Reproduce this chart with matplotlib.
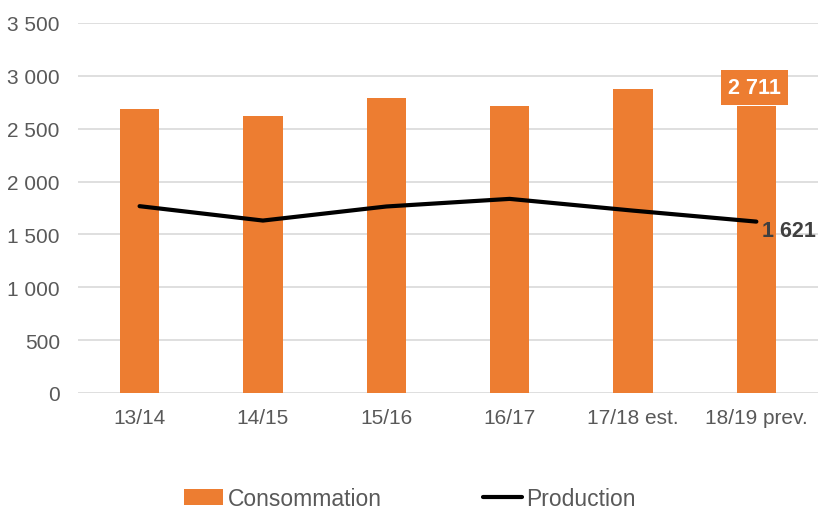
import matplotlib.pyplot as plt
import numpy as np

plt.rcParams['font.family'] = ['Liberation Sans', 'DejaVu Sans']

# data
seasons = ['13/14', '14/15', '15/16', '16/17', '17/18 est.', '18/19 prev.']
consommation = [2685, 2618, 2789, 2716, 2877, 2711]
production = [1767, 1631, 1764, 1836, 1725, 1621]

orange = '#ED7D31'
grey = '#595959'

fig = plt.figure(figsize=(8.2, 5.1), dpi=100)
ax = fig.add_axes([0.095, 0.2275, 0.9026, 0.7255])

x = np.arange(len(seasons))
bars = ax.bar(x, consommation, width=0.32, color=orange, label='Consommation', zorder=2)
line, = ax.plot(x, production, color='black', lw=3, label='Production', zorder=3,
                solid_capstyle='round')

# data labels on the last point
ax.annotate('2 711', (x[-1], consommation[-1]), xytext=(-2, 19),
            textcoords='offset pixels', ha='center', va='center',
            fontsize=15.5, fontweight='bold', color='white',
            bbox=dict(boxstyle='square,pad=0.32', fc=orange, ec='none'))
ax.annotate('1 621', (x[-1], production[-1]), xytext=(6, -9),
            textcoords='offset pixels', ha='left', va='center',
            fontsize=15.5, fontweight='bold', color='#404040')

ax.set_xlim(-0.5, len(seasons) - 0.5)
ax.set_ylim(0, 3500)
ax.set_yticks(np.arange(0, 3501, 500))
ax.set_yticklabels([f'{v:,}'.replace(',', ' ') for v in range(0, 3501, 500)])
ax.set_xticks(x)
ax.set_xticklabels(seasons)
ax.tick_params(length=0, labelsize=15, labelcolor=grey)
ax.tick_params(axis='x', pad=11)
ax.tick_params(axis='y', pad=13)
ax.grid(axis='y', color='#d9d9d9', lw=1.2, zorder=0)
ax.set_axisbelow(True)
for s in ax.spines.values():
    s.set_visible(False)

fig.legend([bars, line], ['Consommation', 'Production'], loc='center',
           bbox_to_anchor=(0.5, 0.02), ncol=2, frameon=False,
           fontsize=16.5, labelcolor=grey, columnspacing=4.4, handlelength=1.7,
           handletextpad=0.2)

fig.savefig('out.png', dpi=100)
